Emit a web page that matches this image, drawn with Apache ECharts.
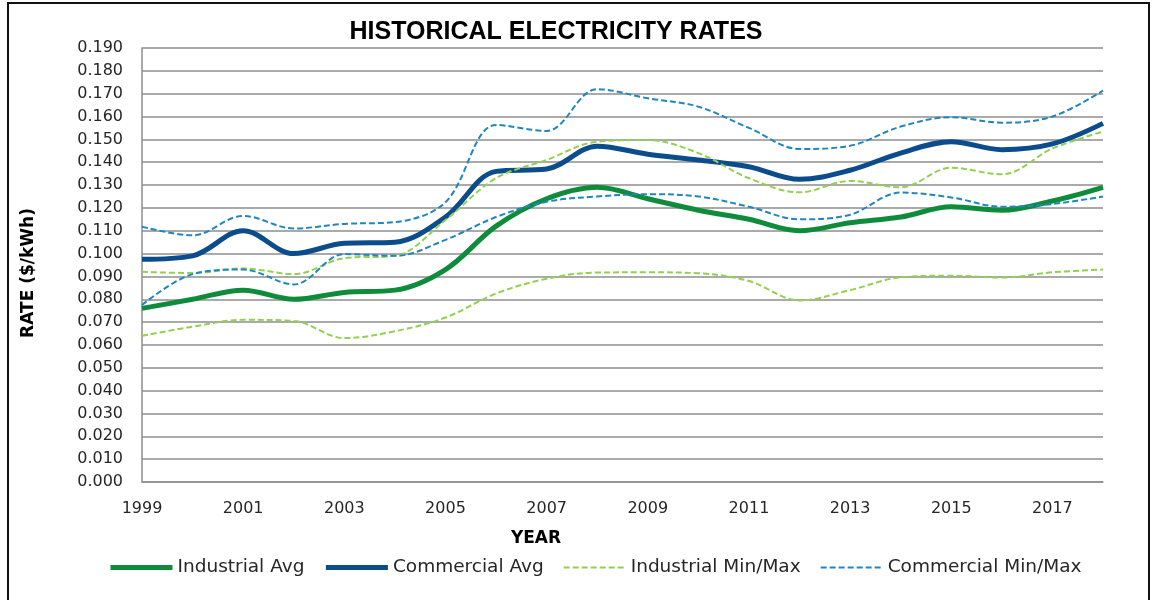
<!DOCTYPE html>
<html>
<head>
<meta charset="utf-8">
<script src="https://cdn.jsdelivr.net/npm/echarts@6/dist/echarts.min.js"></script>
<style>html,body{margin:0;padding:0;background:#fff;}#c{width:1152px;height:600px;}</style>
</head>
<body>
<div id="c"></div>
<script>
const years = ['1999','2000','2001','2002','2003','2004','2005','2006','2007','2008','2009','2010','2011','2012','2013','2014','2015','2016','2017','2018'];
const industrialAvg = [0.076,0.080,0.084,0.080,0.083,0.084,0.093,0.112,0.124,0.129,0.124,0.119,0.115,0.110,0.1135,0.116,0.1205,0.119,0.123,0.129];
const commercialAvg = [0.0975,0.099,0.110,0.100,0.1045,0.105,0.116,0.136,0.137,0.147,0.1435,0.141,0.138,0.1325,0.1365,0.144,0.149,0.1455,0.148,0.157];
const industrialMin = [0.064,0.068,0.071,0.0705,0.063,0.066,0.072,0.0825,0.089,0.0917,0.0918,0.0914,0.088,0.0795,0.084,0.0896,0.0903,0.0895,0.0918,0.093];
const industrialMax = [0.092,0.0915,0.0935,0.091,0.098,0.099,0.1147,0.133,0.141,0.149,0.1497,0.144,0.133,0.1268,0.1318,0.129,0.1376,0.1347,0.146,0.1534];
const commercialMin = [0.0775,0.091,0.093,0.0865,0.0998,0.099,0.106,0.116,0.1227,0.125,0.126,0.125,0.1205,0.115,0.117,0.1267,0.1246,0.1205,0.1217,0.125];
const commercialMax = [0.1118,0.108,0.1165,0.111,0.113,0.1138,0.1225,0.1563,0.1537,0.172,0.168,0.1643,0.155,0.1458,0.1472,0.1556,0.1597,0.1573,0.160,0.1713];
const legendNames = ['Industrial Avg', 'Commercial Avg', 'Industrial Min/Max', 'Commercial Min/Max'];

const GREEN = '#0e8c3c', BLUE = '#0b4c8c', LGREEN = '#92d050', LBLUE = '#1f86c1';
const FONT = 'DejaVu Sans';
const chart = echarts.init(document.getElementById('c'));
function line(name, data, color, width, dashed) {
  return {
    name, type: 'line', data, smooth: 0.35, symbol: 'none', showSymbol: false,
    lineStyle: { color, width, type: dashed ? [6, 3] : 'solid', cap: 'butt' },
    itemStyle: { color }, emphasis: { disabled: true }, silent: true
  };
}
chart.setOption({
  animation: false,
  backgroundColor: '#fff',
  title: {
    text: 'HISTORICAL ELECTRICITY RATES', left: 551, top: 15, textAlign: 'center',
    textStyle: { fontFamily: 'Liberation Sans', fontWeight: 'bold', fontSize: 25, color: '#000' }
  },
  grid: { left: 142, right: 49, top: 48, bottom: 118, containLabel: false },
  legend: {
    left: 108, top: 558, padding: 0, itemWidth: 62, itemHeight: 8, itemGap: 19,
    itemStyle: { opacity: 0 },
    textStyle: { fontFamily: FONT, fontSize: 18.5, color: '#262626' },
    data: [
      { name: legendNames[0], lineStyle: { width: 5 } },
      { name: legendNames[1], lineStyle: { width: 5 } },
      { name: legendNames[2], lineStyle: { width: 2 } },
      { name: legendNames[3], lineStyle: { width: 2 } }
    ]
  },
  xAxis: {
    type: 'category', data: years, boundaryGap: false,
    axisLine: { show: true, lineStyle: { color: '#8e8e8e', width: 1.5 } },
    axisTick: { show: false },
    axisLabel: { interval: 1, margin: 19, fontFamily: FONT, fontSize: 16, color: '#262626' },
    splitLine: { show: false }
  },
  yAxis: {
    type: 'value', min: 0, max: 0.19, interval: 0.01,
    axisLine: { show: true, lineStyle: { color: '#8e8e8e', width: 1.5 } },
    axisTick: { show: false },
    axisLabel: { margin: 19, fontFamily: FONT, fontSize: 16, color: '#262626', formatter: v => v.toFixed(3) },
    splitLine: { show: true, lineStyle: { color: '#8e8e8e', width: 1.5 } }
  },
  graphic: [
    { type: 'rect', shape: { x: 8, y: 3, width: 1141, height: 610 }, style: { fill: 'none', stroke: '#111', lineWidth: 2 }, silent: true },
    { type: 'text', x: 536, y: 539, style: { text: 'YEAR', font: 'bold 17px "DejaVu Sans"', fill: '#000', textAlign: 'center', textVerticalAlign: 'middle' } },
    { type: 'text', x: 29, y: 273, rotation: Math.PI / 2, style: { text: 'RATE ($/kWh)', font: 'bold 17px "DejaVu Sans"', fill: '#000', textAlign: 'center', textVerticalAlign: 'middle' } }
  ],
  series: [
    line(legendNames[0], industrialAvg, GREEN, 5, false),
    line(legendNames[1], commercialAvg, BLUE, 5, false),
    line(legendNames[2], industrialMin, LGREEN, 2, true),
    line(legendNames[2], industrialMax, LGREEN, 2, true),
    line(legendNames[3], commercialMin, LBLUE, 2, true),
    line(legendNames[3], commercialMax, LBLUE, 2, true)
  ]
});
</script>
</body>
</html>
